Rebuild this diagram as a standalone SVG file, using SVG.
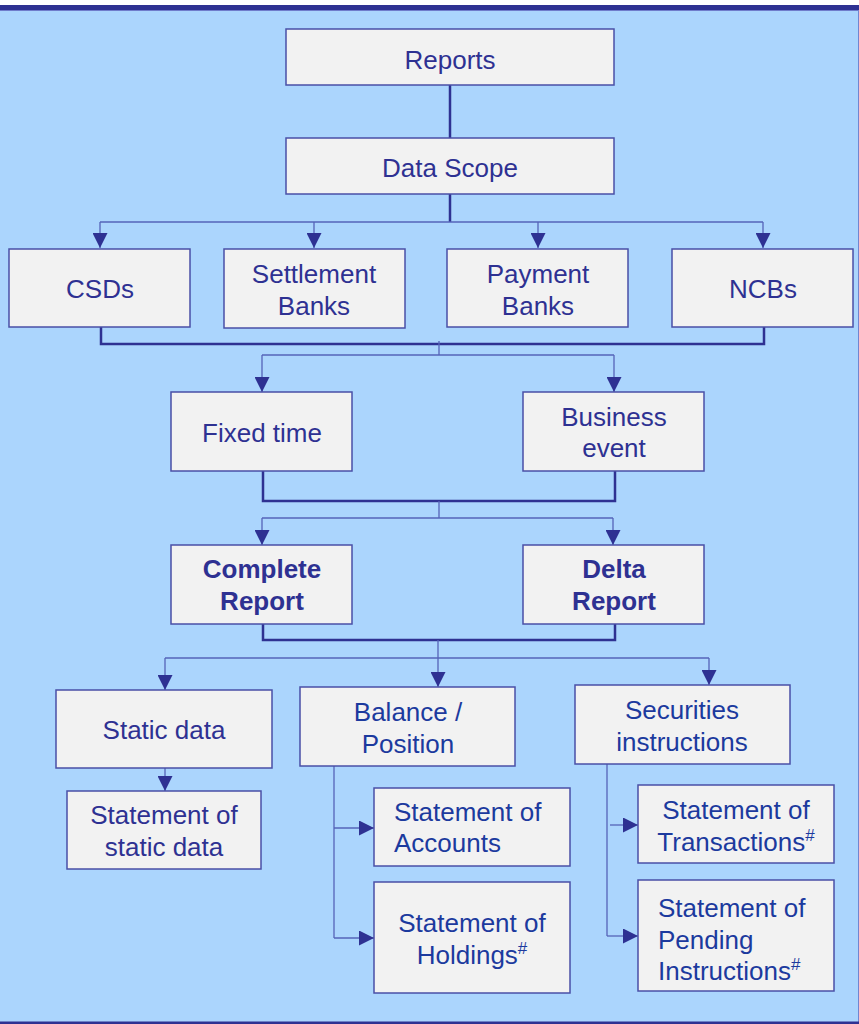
<svg xmlns="http://www.w3.org/2000/svg" width="859" height="1024" viewBox="0 0 859 1024">
<style>
.box{fill:#F2F2F2;stroke:#4A4FA6;stroke-width:1.5}
.t{font-family:"Liberation Sans",Arial,sans-serif;font-size:26px;fill:#2E3192;text-anchor:middle}
.b{font-weight:bold}
.l{fill:#1C3A9E}
.st{text-anchor:start}
.thick{fill:none;stroke:#2E3192;stroke-width:2.5}
.thin{fill:none;stroke:#5563B8;stroke-width:1.3}
.sup{font-size:17px}
</style>
<defs>
<marker id="ah" viewBox="0 0 15 15" markerWidth="15" markerHeight="15" refX="15" refY="7.5" orient="auto" markerUnits="userSpaceOnUse">
<path d="M0,0 L15,7.5 L0,15 Z" fill="#2E3192"/>
</marker>
</defs>
<rect x="0" y="0" width="859" height="1024" fill="#FFFFFF"/>
<rect x="0" y="9" width="859" height="1015" fill="#ABD5FD"/>
<rect x="0" y="5" width="859" height="5" fill="#2E3192"/>
<line x1="0" y1="10.5" x2="859" y2="10.5" stroke="#6F7CCB" stroke-width="1"/>
<line x1="858.5" y1="10" x2="858.5" y2="1024" stroke="#7186D0" stroke-width="1"/>
<rect x="0" y="1021.5" width="859" height="2.5" fill="#2E3192"/>

<g id="connectors">
<path class="thick" d="M450,85 V138"/>
<path class="thick" d="M450,194 V222"/>
<path class="thin" d="M100,222 H763"/>
<path class="thin" d="M314,222 V248" marker-end="url(#ah)"/>
<path class="thin" d="M538,222 V248" marker-end="url(#ah)"/>
<path class="thin" d="M100,222 V248" marker-end="url(#ah)"/>
<path class="thin" d="M763,222 V248" marker-end="url(#ah)"/>
<path class="thick" d="M101,327 V344 H764 V327"/>
<path class="thin" d="M439,341 V355"/>
<path class="thin" d="M262,355 H614"/>
<path class="thin" d="M262,355 V392" marker-end="url(#ah)"/>
<path class="thin" d="M614,355 V392" marker-end="url(#ah)"/>
<path class="thick" d="M263,471 V501 H615 V471"/>
<path class="thin" d="M439,501 V518"/>
<path class="thin" d="M262,518 H613"/>
<path class="thin" d="M262,518 V545" marker-end="url(#ah)"/>
<path class="thin" d="M613,518 V545" marker-end="url(#ah)"/>
<path class="thick" d="M263,624 V640 H615 V624"/>
<path class="thin" d="M438,640 V658"/>
<path class="thin" d="M165,658 H709"/>
<path class="thin" d="M165,658 V690" marker-end="url(#ah)"/>
<path class="thin" d="M438,658 V687" marker-end="url(#ah)"/>
<path class="thin" d="M709,658 V685" marker-end="url(#ah)"/>
<path class="thin" d="M165,768 V791" marker-end="url(#ah)"/>
<path class="thin" d="M334,766 V938"/>
<path class="thin" d="M334,828 H374" marker-end="url(#ah)"/>
<path class="thin" d="M334,938 H374" marker-end="url(#ah)"/>
<path class="thin" d="M607,764 V936"/>
<path class="thin" d="M610,825 H638" marker-end="url(#ah)"/>
<path class="thin" d="M607,936 H638" marker-end="url(#ah)"/>
</g>

<g id="reports"><rect class="box" x="286" y="29" width="328" height="56"/><text class="t" x="450" y="69">Reports</text></g>
<g id="data-scope"><rect class="box" x="286" y="138" width="328" height="56"/><text class="t" x="450" y="177">Data Scope</text></g>

<g id="csds"><rect class="box" x="9" y="249" width="181" height="78"/><text class="t" x="100" y="298">CSDs</text></g>
<g id="settlement-banks"><rect class="box" x="224" y="249" width="181" height="79"/><text class="t" x="314" y="283">Settlement</text><text class="t" x="314" y="315">Banks</text></g>
<g id="payment-banks"><rect class="box" x="447" y="249" width="181" height="78"/><text class="t" x="538" y="283">Payment</text><text class="t" x="538" y="315">Banks</text></g>
<g id="ncbs"><rect class="box" x="672" y="249" width="181" height="78"/><text class="t" x="763" y="298">NCBs</text></g>

<g id="fixed-time"><rect class="box" x="171" y="392" width="181" height="79"/><text class="t" x="262" y="442">Fixed time</text></g>
<g id="business-event"><rect class="box" x="523" y="392" width="181" height="79"/><text class="t" x="614" y="426">Business</text><text class="t" x="614" y="457">event</text></g>

<g id="complete-report"><rect class="box" x="171" y="545" width="181" height="79"/><text class="t b" x="262" y="578">Complete</text><text class="t b" x="262" y="610">Report</text></g>
<g id="delta-report"><rect class="box" x="523" y="545" width="181" height="79"/><text class="t b" x="614" y="578">Delta</text><text class="t b" x="614" y="610">Report</text></g>

<g id="static-data"><rect class="box" x="56" y="690" width="216" height="78"/><text class="t" x="164" y="739">Static data</text></g>
<g id="balance-position"><rect class="box" x="300" y="687" width="215" height="79"/><text class="t l" x="408" y="721">Balance /</text><text class="t l" x="408" y="753">Position</text></g>
<g id="securities-instructions"><rect class="box" x="575" y="685" width="215" height="79"/><text class="t l" x="682" y="719">Securities</text><text class="t l" x="682" y="751">instructions</text></g>

<g id="statement-static-data"><rect class="box" x="67" y="791" width="194" height="78"/><text class="t" x="164" y="824">Statement of</text><text class="t" x="164" y="856">static data</text></g>
<g id="statement-accounts"><rect class="box" x="374" y="788" width="196" height="78"/><text class="t l st" x="394" y="821">Statement of</text><text class="t l st" x="394" y="852">Accounts</text></g>
<g id="statement-holdings"><rect class="box" x="374" y="882" width="196" height="111"/><text class="t l" x="472" y="932">Statement of</text><text class="t l" x="472" y="964">Holdings<tspan class="sup" dy="-10">#</tspan></text></g>
<g id="statement-transactions"><rect class="box" x="638" y="785" width="196" height="78"/><text class="t l" x="736" y="819">Statement of</text><text class="t l" x="736" y="851">Transactions<tspan class="sup" dy="-10">#</tspan></text></g>
<g id="statement-pending"><rect class="box" x="638" y="880" width="196" height="111"/><text class="t l st" x="658" y="917">Statement of</text><text class="t l st" x="658" y="949">Pending</text><text class="t l st" x="658" y="980">Instructions<tspan class="sup" dy="-10">#</tspan></text></g>
</svg>
